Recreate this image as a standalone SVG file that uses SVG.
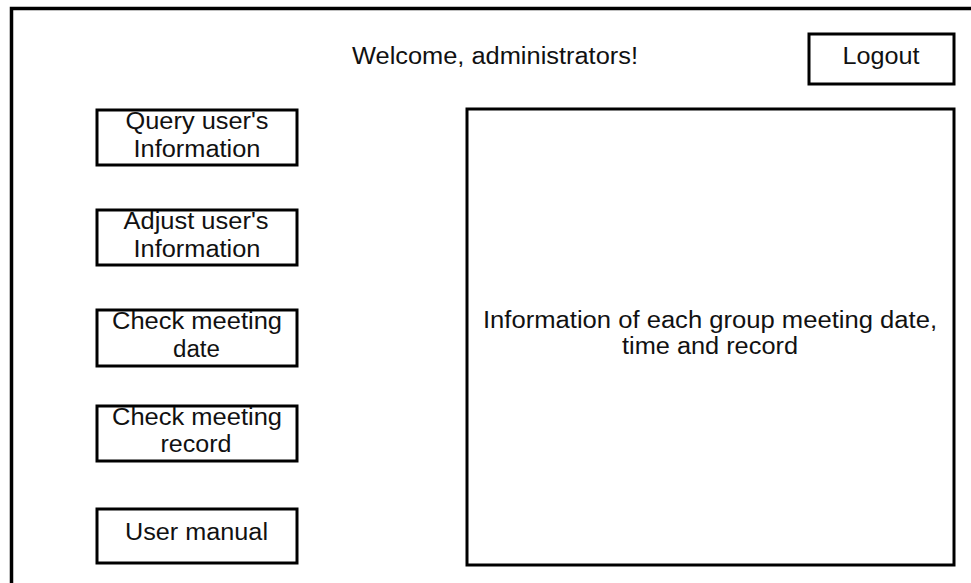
<svg xmlns="http://www.w3.org/2000/svg" width="971" height="583" viewBox="0 0 971 583">
<style>
.box{fill:#fff;stroke:#000;stroke-width:3}
.frame{fill:none;stroke:#000;stroke-width:3.5}
text{font-family:"Liberation Sans",Arial,sans-serif;font-size:23px;fill:#111;text-anchor:middle}
</style>
<rect width="971" height="583" fill="#fff"/>
<g id="frame">
<rect class="frame" x="11.5" y="8.5" width="980" height="600"/>
</g>
<g id="welcome">
<text x="495" y="63.5" textLength="286" lengthAdjust="spacingAndGlyphs">Welcome, administrators!</text>
</g>
<g id="logout">
<rect class="box" x="809" y="34" width="145" height="50"/>
<text x="881" y="63.5" textLength="77" lengthAdjust="spacingAndGlyphs">Logout</text>
</g>
<g id="query">
<rect class="box" x="97" y="110" width="200" height="55"/>
<text x="197" y="129" textLength="143" lengthAdjust="spacingAndGlyphs">Query user's</text>
<text x="197" y="156.5" textLength="127" lengthAdjust="spacingAndGlyphs">Information</text>
</g>
<g id="adjust">
<rect class="box" x="97" y="210" width="200" height="55"/>
<text x="196" y="228.5" textLength="145" lengthAdjust="spacingAndGlyphs">Adjust user's</text>
<text x="197" y="257" textLength="127" lengthAdjust="spacingAndGlyphs">Information</text>
</g>
<g id="date">
<rect class="box" x="97" y="310" width="200" height="56"/>
<text x="197" y="328.5" textLength="170" lengthAdjust="spacingAndGlyphs">Check meeting</text>
<text x="196.5" y="357" textLength="47" lengthAdjust="spacingAndGlyphs">date</text>
</g>
<g id="record">
<rect class="box" x="97" y="406" width="200" height="55"/>
<text x="197" y="425" textLength="170" lengthAdjust="spacingAndGlyphs">Check meeting</text>
<text x="196" y="452" textLength="71" lengthAdjust="spacingAndGlyphs">record</text>
</g>
<g id="manual">
<rect class="box" x="97" y="509" width="200" height="54"/>
<text x="196.5" y="540" textLength="143" lengthAdjust="spacingAndGlyphs">User manual</text>
</g>
<g id="info">
<rect class="box" x="467" y="109" width="487" height="456"/>
<text x="710" y="328" textLength="454" lengthAdjust="spacingAndGlyphs">Information of each group meeting date,</text>
<text x="710" y="354" textLength="176" lengthAdjust="spacingAndGlyphs">time and record</text>
</g>
<g id="connectors"></g>
</svg>
